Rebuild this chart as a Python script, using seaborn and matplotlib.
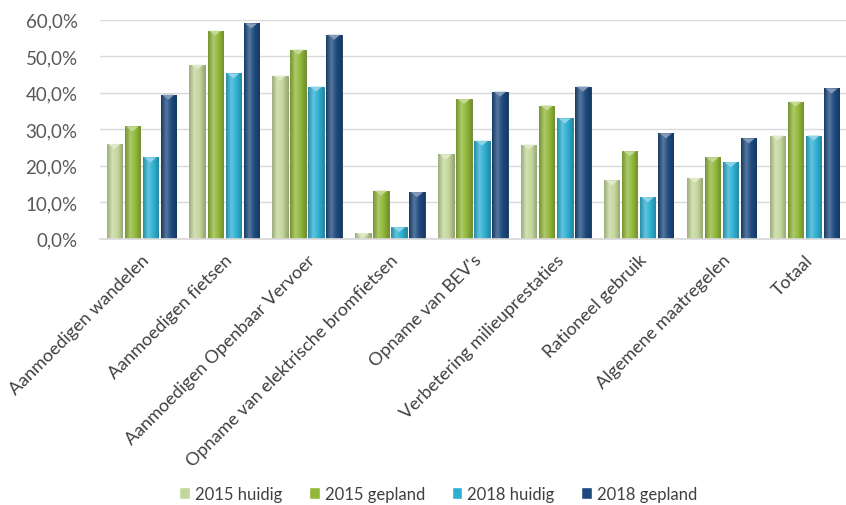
import numpy as np
import pandas as pd
import matplotlib
matplotlib.use("Agg")
import matplotlib.pyplot as plt
import seaborn as sns
from matplotlib.colors import LinearSegmentedColormap, to_rgb
from matplotlib.patches import Polygon
from matplotlib.ticker import FuncFormatter

categories = [
    "Aanmoedigen wandelen",
    "Aanmoedigen fietsen",
    "Aanmoedigen Openbaar Vervoer",
    "Opname van elektrische bromfietsen",
    "Opname van BEV's",
    "Verbetering milieuprestaties",
    "Rationeel gebruik",
    "Algemene maatregelen",
    "Totaal",
]
series = ["2015 huidig", "2015 gepland", "2018 huidig", "2018 gepland"]
huidig_2015 = [26.0, 47.7, 44.7, 1.6, 23.1, 25.8, 16.0, 16.7, 28.3]
gepland_2015 = [30.8, 57.0, 51.8, 13.2, 38.3, 36.5, 24.0, 22.3, 37.6]
huidig_2018 = [22.3, 45.3, 41.7, 3.2, 26.9, 33.0, 11.4, 21.0, 28.3]
gepland_2018 = [39.5, 59.0, 55.9, 12.8, 40.3, 41.7, 28.9, 27.5, 41.2]
colors = ["#c4d79b", "#92b83a", "#2fb0d2", "#1d4a7e"]

df = pd.DataFrame({
    "categorie": categories * 4,
    "reeks": np.repeat(series, len(categories)),
    "waarde": huidig_2015 + gepland_2015 + huidig_2018 + gepland_2018,
})

sns.set_theme(style="white")
plt.rcParams["font.family"] = ["Lato", "DejaVu Sans"]

fig = plt.figure(figsize=(8.46, 5.06), dpi=100)
ax = fig.add_axes([0.118, 0.526, 0.882, 0.433])

palette = dict(zip(series, colors))
sns.barplot(data=df, x="categorie", y="waarde", hue="reeks", hue_order=series,
            order=categories, palette=palette, width=0.87, gap=0.15,
            saturation=1, ax=ax, legend=True)

# shaded, bevelled look for each bar
def shade(c, f):
    r = np.array(to_rgb(c))
    if f < 1:
        return tuple(r * f)
    return tuple(r + (1 - r) * (f - 1))

for container, col in zip(ax.containers, colors):
    cmap = LinearSegmentedColormap.from_list(
        "bar", [shade(col, 0.8), shade(col, 1.25), shade(col, 1.0), shade(col, 0.78)])
    grad = np.linspace(0, 1, 64).reshape(1, -1)
    for p in container.patches:
        x0, y0 = p.get_x(), p.get_y()
        w, h = p.get_width(), p.get_height()
        im = ax.imshow(grad, extent=[x0, x0 + w, y0, y0 + h], cmap=cmap,
                       aspect="auto", origin="lower", zorder=2.1)
        im.set_clip_path(p)
        p.set_edgecolor(shade(col, 0.7))
        p.set_linewidth(0.6)
        cap = min(1.4, h)
        tri = Polygon([[x0 + 0.1 * w, y0 + h], [x0 + 0.9 * w, y0 + h],
                       [x0 + 0.5 * w, y0 + h - cap]], closed=True,
                      facecolor=shade(col, 1.45), edgecolor="none", zorder=2.2)
        ax.add_patch(tri)

ax.set_xlim(-0.5, len(categories) - 0.5)
ax.set_ylim(0, 60)
ax.set_yticks(np.arange(0, 61, 10))
ax.yaxis.set_major_formatter(FuncFormatter(lambda v, _: f"{v:.1f}%".replace(".", ",")))
ax.grid(axis="y", color="#d9d9d9", linewidth=1)
ax.set_axisbelow(True)
for s in ["top", "right", "left"]:
    ax.spines[s].set_visible(False)
ax.spines["bottom"].set_color("#d9d9d9")
ax.set_xlabel("")
ax.set_ylabel("")
ax.tick_params(axis="y", labelsize=13.5, labelcolor="#595959", length=0, pad=16)
ax.tick_params(axis="x", labelsize=13, labelcolor="#404040", length=0, pad=9)
plt.setp(ax.get_xticklabels(), rotation=45, ha="right", rotation_mode="anchor")

handles, labels = ax.get_legend_handles_labels()
ax.legend(handles, labels, loc="center", bbox_to_anchor=(0.518, 0.022),
          bbox_transform=fig.transFigure, ncol=4, frameon=False, fontsize=12,
          handlelength=0.65, handleheight=0.65, handletextpad=0.3, columnspacing=1.6,
          labelcolor="#404040")

fig.savefig("out.png", dpi=100)
